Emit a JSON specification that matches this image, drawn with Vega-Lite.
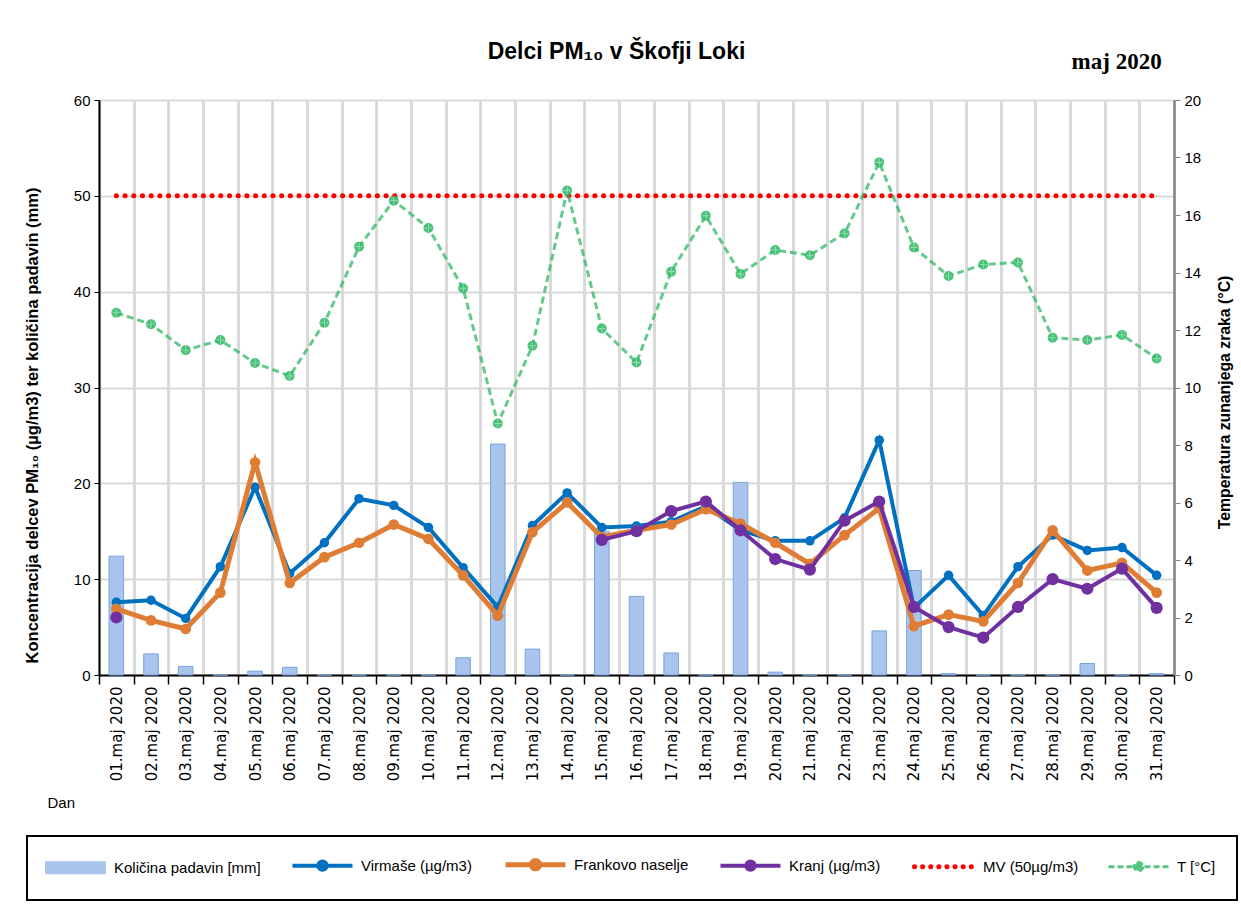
{
  "$schema": "https://vega.github.io/schema/vega-lite/v6.json",
  "width": 1075,
  "height": 575,
  "autosize": "none",
  "padding": {"left": 99, "top": 100, "right": 67, "bottom": 238},
  "background": "white",
  "title": {"text": "Delci PM₁₀ v Škofji Loki", "font": "Liberation Sans", "fontSize": 23, "fontWeight": "bold", "color": "#000000", "anchor": "middle", "frame": "group", "dx": -20, "offset": -13},
  "datasets": {
    "d": [
      {"dan": "01.maj 2020", "pad": 12.4, "vir": 7.6, "fra": 6.9, "kra": 6.0, "t": 12.6, "mv": 50},
      {"dan": "02.maj 2020", "pad": 2.2, "vir": 7.8, "fra": 5.7, "kra": null, "t": 12.2, "mv": 50},
      {"dan": "03.maj 2020", "pad": 0.9, "vir": 5.9, "fra": 4.8, "kra": null, "t": 11.3, "mv": 50},
      {"dan": "04.maj 2020", "pad": 0, "vir": 11.3, "fra": 8.6, "kra": null, "t": 11.65, "mv": 50},
      {"dan": "05.maj 2020", "pad": 0.4, "vir": 19.6, "fra": 22.2, "kra": null, "t": 10.85, "mv": 50},
      {"dan": "06.maj 2020", "pad": 0.8, "vir": 10.6, "fra": 9.6, "kra": null, "t": 10.4, "mv": 50},
      {"dan": "07.maj 2020", "pad": 0, "vir": 13.8, "fra": 12.3, "kra": null, "t": 12.25, "mv": 50},
      {"dan": "08.maj 2020", "pad": 0, "vir": 18.4, "fra": 13.8, "kra": null, "t": 14.9, "mv": 50},
      {"dan": "09.maj 2020", "pad": 0, "vir": 17.7, "fra": 15.7, "kra": null, "t": 16.5, "mv": 50},
      {"dan": "10.maj 2020", "pad": 0, "vir": 15.4, "fra": 14.2, "kra": null, "t": 15.55, "mv": 50},
      {"dan": "11.maj 2020", "pad": 1.8, "vir": 11.2, "fra": 10.4, "kra": null, "t": 13.45, "mv": 50},
      {"dan": "12.maj 2020", "pad": 24.1, "vir": 7.1, "fra": 6.2, "kra": null, "t": 8.75, "mv": 50},
      {"dan": "13.maj 2020", "pad": 2.7, "vir": 15.6, "fra": 14.9, "kra": null, "t": 11.45, "mv": 50},
      {"dan": "14.maj 2020", "pad": 0, "vir": 19.0, "fra": 18.0, "kra": null, "t": 16.85, "mv": 50},
      {"dan": "15.maj 2020", "pad": 15.0, "vir": 15.4, "fra": 14.4, "kra": 14.1, "t": 12.05, "mv": 50},
      {"dan": "16.maj 2020", "pad": 8.2, "vir": 15.55, "fra": 15.1, "kra": 15.0, "t": 10.87, "mv": 50},
      {"dan": "17.maj 2020", "pad": 2.3, "vir": 16.0, "fra": 15.7, "kra": 17.1, "t": 14.03, "mv": 50},
      {"dan": "18.maj 2020", "pad": 0, "vir": 17.6, "fra": 17.3, "kra": 18.1, "t": 15.97, "mv": 50},
      {"dan": "19.maj 2020", "pad": 20.1, "vir": 15.1, "fra": 15.8, "kra": 15.1, "t": 13.95, "mv": 50},
      {"dan": "20.maj 2020", "pad": 0.3, "vir": 14.0, "fra": 13.8, "kra": 12.1, "t": 14.78, "mv": 50},
      {"dan": "21.maj 2020", "pad": 0, "vir": 14.0, "fra": 11.6, "kra": 11.0, "t": 14.6, "mv": 50},
      {"dan": "22.maj 2020", "pad": 0, "vir": 16.4, "fra": 14.6, "kra": 16.1, "t": 15.36, "mv": 50},
      {"dan": "23.maj 2020", "pad": 4.6, "vir": 24.5, "fra": 17.4, "kra": 18.1, "t": 17.83, "mv": 50},
      {"dan": "24.maj 2020", "pad": 10.9, "vir": 7.0, "fra": 5.1, "kra": 7.1, "t": 14.87, "mv": 50},
      {"dan": "25.maj 2020", "pad": 0.15, "vir": 10.4, "fra": 6.3, "kra": 5.0, "t": 13.88, "mv": 50},
      {"dan": "26.maj 2020", "pad": 0, "vir": 6.2, "fra": 5.6, "kra": 3.9, "t": 14.28, "mv": 50},
      {"dan": "27.maj 2020", "pad": 0, "vir": 11.3, "fra": 9.6, "kra": 7.1, "t": 14.35, "mv": 50},
      {"dan": "28.maj 2020", "pad": 0, "vir": 14.6, "fra": 15.1, "kra": 10.0, "t": 11.73, "mv": 50},
      {"dan": "29.maj 2020", "pad": 1.2, "vir": 13.0, "fra": 10.9, "kra": 9.0, "t": 11.65, "mv": 50},
      {"dan": "30.maj 2020", "pad": 0, "vir": 13.3, "fra": 11.7, "kra": 11.1, "t": 11.83, "mv": 50},
      {"dan": "31.maj 2020", "pad": 0.15, "vir": 10.4, "fra": 8.6, "kra": 7.0, "t": 11.01, "mv": 50}
    ]
  },
  "data": {"name": "d"},
  "layer": [
    {
      "layer": [
        {
          "mark": {"type": "bar", "width": {"band": 0.42}, "stroke": "#7aa3dc", "strokeWidth": 1},
          "encoding": {
            "x": {"field": "dan", "type": "ordinal", "title": "Dan", "scale": {"type": "band", "paddingInner": 0, "paddingOuter": 0}},
            "y": {"field": "pad", "type": "quantitative", "title": "Koncentracija delcev PM₁₀ (µg/m3) ter količina padavin (mm)", "scale": {"domain": [0, 60]}, "axis": {"values": [0, 10, 20, 30, 40, 50, 60]}},
            "color": {
              "datum": "Količina padavin [mm]",
              "scale": {
                "domain": ["Količina padavin [mm]", "Virmaše (µg/m3)", "Frankovo naselje", "Kranj (µg/m3)", "MV (50µg/m3)", "T [°C]"],
                "range": ["#a9c5ee", "#0070c0", "#e07d35", "#7030a0", "#ff0000", "#2fb865"]
              },
              "legend": {
                "title": null,
                "orient": "none",
                "legendX": -72,
                "legendY": 736,
                "direction": "horizontal",
                "columns": 6,
                "symbolSize": 400,
                "symbolOffset": 20,
                "labelOffset": 31,
                "labelFont": "Liberation Sans",
                "labelFontSize": 15,
                "labelColor": "#000000",
                "labelLimit": 300,
                "columnPadding": 23,
                "padding": 21,
                "strokeColor": "#000000",
                "encoding": {
                  "legend": {"strokeWidth": {"value": 2}},
                  "symbols": {
                    "shape": {"value": {"expr": "datum.value == 'Količina padavin [mm]' ? 'M-3,-0.6H3V0.6H-3Z' : datum.value == 'MV (50µg/m3)' ? 'M-3,0H3' : 'M-3,0H3M0.42,0A0.42,0.42,0,1,1,-0.42,0A0.42,0.42,0,1,1,0.42,0'"}},
                    "fill": {"value": {"expr": "datum.value == 'Količina padavin [mm]' ? '#a9c5ee' : datum.value == 'Virmaše (µg/m3)' ? '#0070c0' : datum.value == 'Frankovo naselje' ? '#e07d35' : datum.value == 'Kranj (µg/m3)' ? '#7030a0' : datum.value == 'MV (50µg/m3)' ? 'transparent' : '#2fb865'"}},
                    "stroke": {"value": {"expr": "datum.value == 'Količina padavin [mm]' ? '#7aa3dc' : datum.value == 'Virmaše (µg/m3)' ? '#0070c0' : datum.value == 'Frankovo naselje' ? '#e07d35' : datum.value == 'Kranj (µg/m3)' ? '#7030a0' : datum.value == 'MV (50µg/m3)' ? '#ff0000' : '#2fb865'"}},
                    "strokeWidth": {"value": {"expr": "datum.value == 'Količina padavin [mm]' ? 1 : datum.value == 'MV (50µg/m3)' ? 5 : datum.value == 'T [°C]' ? 3 : datum.value == 'Frankovo naselje' ? 5 : 4"}},
                    "strokeDash": {"value": {"expr": "datum.value == 'MV (50µg/m3)' ? [0.1, 8] : datum.value == 'T [°C]' ? [6, 3] : []"}},
                    "strokeCap": {"value": {"expr": "datum.value == 'MV (50µg/m3)' ? 'round' : 'butt'"}},
                    "opacity": {"value": {"expr": "datum.value == 'T [°C]' ? 0.8 : 1"}}
                  }
                }
              }
            }
          }
        },
        {
          "mark": {"type": "line", "strokeWidth": 4, "point": {"filled": true, "size": 90, "opacity": 1}},
          "encoding": {
            "x": {"field": "dan", "type": "ordinal", "title": "Dan"},
            "y": {"field": "vir", "type": "quantitative", "title": "Koncentracija delcev PM₁₀ (µg/m3) ter količina padavin (mm)"},
            "color": {"datum": "Virmaše (µg/m3)"}
          }
        },
        {
          "mark": {"type": "line", "strokeWidth": 5, "point": {"filled": true, "size": 115, "opacity": 1}},
          "encoding": {
            "x": {"field": "dan", "type": "ordinal", "title": "Dan"},
            "y": {"field": "fra", "type": "quantitative", "title": "Koncentracija delcev PM₁₀ (µg/m3) ter količina padavin (mm)"},
            "color": {"datum": "Frankovo naselje"}
          }
        },
        {
          "mark": {"type": "line", "strokeWidth": 4, "invalid": "break-paths-filter-domains", "point": {"filled": true, "size": 150, "opacity": 1}},
          "encoding": {
            "x": {"field": "dan", "type": "ordinal", "title": "Dan"},
            "y": {"field": "kra", "type": "quantitative", "title": "Koncentracija delcev PM₁₀ (µg/m3) ter količina padavin (mm)"},
            "color": {"datum": "Kranj (µg/m3)"}
          }
        },
        {
          "mark": {"type": "line", "strokeWidth": 5, "strokeDash": [0.1, 8.6], "strokeCap": "round"},
          "encoding": {
            "x": {"field": "dan", "type": "ordinal", "title": "Dan"},
            "y": {"field": "mv", "type": "quantitative", "title": "Koncentracija delcev PM₁₀ (µg/m3) ter količina padavin (mm)"},
            "color": {"datum": "MV (50µg/m3)"}
          }
        },
        {
          "data": {"values": [{"lbl": "maj 2020"}]},
          "mark": {"type": "text", "font": "Liberation Serif", "fontWeight": "bold", "fontSize": 23, "align": "right", "baseline": "alphabetic", "dx": 5, "fill": "#000000"},
          "encoding": {
            "x": {"datum": "31.maj 2020", "type": "ordinal"},
            "y": {"datum": 63.2, "type": "quantitative"},
            "text": {"field": "lbl"}
          }
        }
      ]
    },
    {
      "layer": [
        {
          "mark": {"type": "line", "strokeWidth": 3, "strokeDash": [7, 4], "opacity": 0.75, "point": {"filled": true, "size": 100, "opacity": 0.85}},
          "encoding": {
            "x": {"field": "dan", "type": "ordinal", "title": "Dan"},
            "y": {"field": "t", "type": "quantitative", "title": "Temperatura zunanjega zraka (°C)", "scale": {"domain": [0, 20]}, "axis": {"orient": "right", "values": [0, 2, 4, 6, 8, 10, 12, 14, 16, 18, 20], "grid": false}},
            "color": {"datum": "T [°C]"}
          }
        },
        {
          "mark": {"type": "point", "shape": "M-0.75,0H0.75M0,-0.75V0.75", "size": 100, "stroke": "#9fe0b8", "strokeWidth": 1, "filled": false, "opacity": 0.9},
          "encoding": {
            "x": {"field": "dan", "type": "ordinal", "title": "Dan"},
            "y": {"field": "t", "type": "quantitative", "title": "Temperatura zunanjega zraka (°C)"}
          }
        }
      ]
    }
  ],
  "resolve": {"scale": {"y": "independent"}},
  "config": {
    "view": {"stroke": null},
    "font": "Liberation Sans",
    "axisX": {
      "tickBand": "extent",
      "grid": true,
      "gridColor": "#d9d9d9",
      "gridWidth": 3,
      "domainColor": "#000000",
      "domainWidth": 2,
      "tickColor": "#000000",
      "tickWidth": 1.5,
      "tickSize": 9,
      "labelAngle": -90,
      "labelFont": "DejaVu Sans",
      "labelFontSize": 15,
      "labelColor": "#000000",
      "labelPadding": 2,
      "titleX": -52,
      "titleY": 127,
      "titleAlign": "left",
      "titleBaseline": "middle",
      "titleFontWeight": "normal",
      "titleFontSize": 15,
      "titleColor": "#000000"
    },
    "axisLeft": {
      "grid": true,
      "gridColor": "#d9d9d9",
      "gridWidth": 2,
      "domainColor": "#000000",
      "domainWidth": 2,
      "tickColor": "#000000",
      "tickSize": 5,
      "labelFontSize": 15,
      "labelColor": "#000000",
      "labelPadding": 4,
      "titleFontSize": 16.5,
      "titleFontWeight": "bold",
      "titleColor": "#000000",
      "titleX": -59,
      "titleY": 325
    },
    "axisRight": {
      "grid": false,
      "domainColor": "#868686",
      "domainWidth": 2.5,
      "tickColor": "#868686",
      "tickSize": 6,
      "labelFontSize": 15,
      "labelColor": "#000000",
      "labelPadding": 4,
      "titleFontSize": 15.8,
      "titleFontWeight": "bold",
      "titleColor": "#000000",
      "titleAngle": 270,
      "titleX": 58,
      "titleY": 302
    }
  }
}
